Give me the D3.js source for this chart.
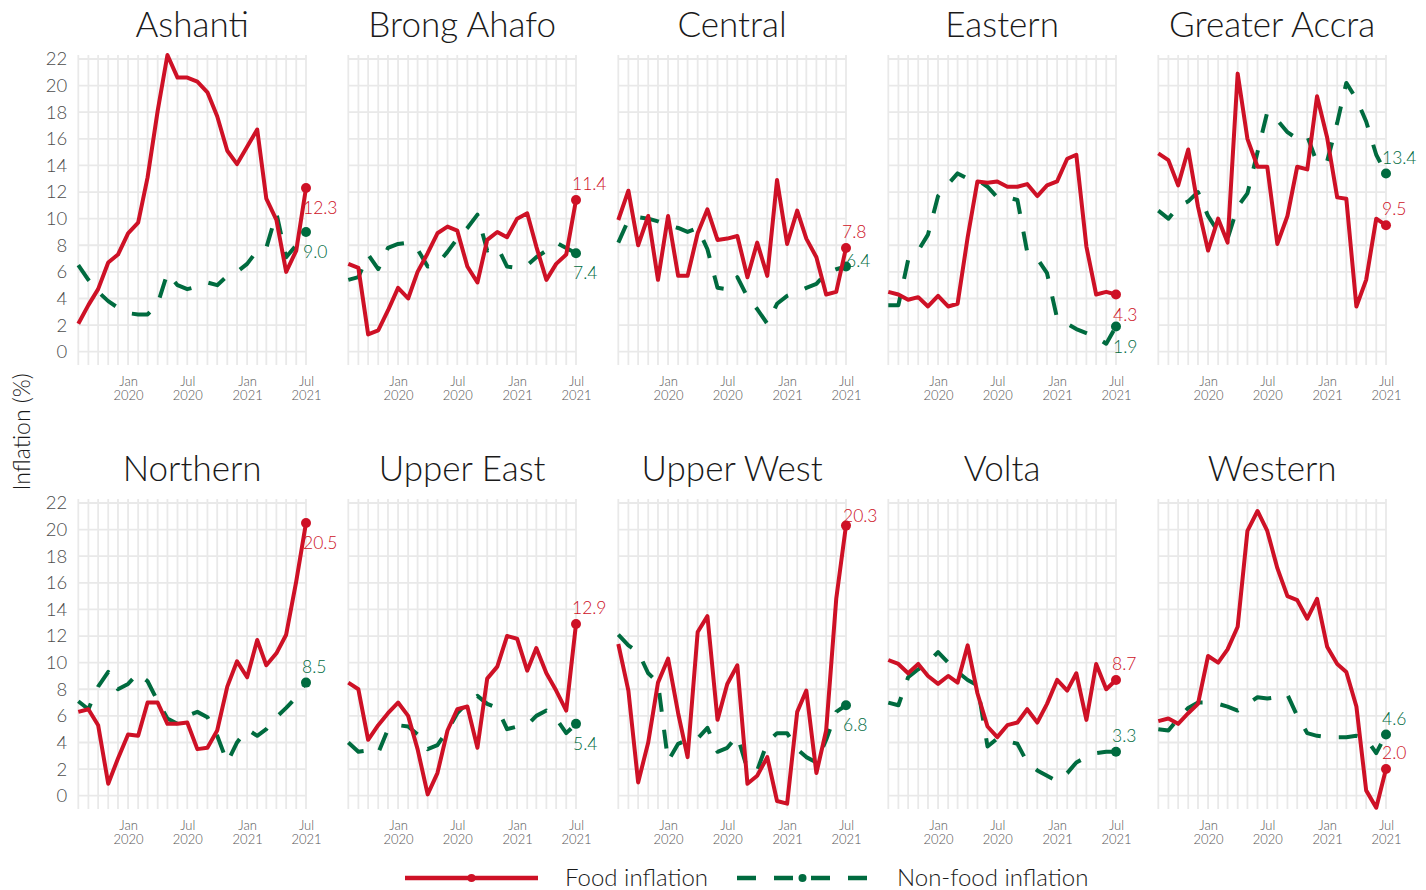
<!DOCTYPE html>
<html>
<head>
<meta charset="utf-8">
<script src="https://cdn.jsdelivr.net/npm/d3@7"></script>
<style>
    body { margin: 0; background: #fff; }
    svg { display: block; font-family: Lato, "Open Sans", sans-serif; font-weight: 300; }
</style>
</head>
<body>
<svg id="chart" width="1426" height="890"></svg>
<script>
const regions = [
    "Ashanti", "Brong Ahafo", "Central", "Eastern", "Greater Accra",
    "Northern", "Upper East", "Upper West", "Volta", "Western",
];

const months = [
    "2019-08", "2019-09", "2019-10", "2019-11", "2019-12",
    "2020-01", "2020-02", "2020-03", "2020-04", "2020-05", "2020-06",
    "2020-07", "2020-08", "2020-09", "2020-10", "2020-11", "2020-12",
    "2021-01", "2021-02", "2021-03", "2021-04", "2021-05", "2021-06", "2021-07",
];

// year-on-year food inflation, one row per region (Aug 2019 .. Jul 2021)
const foodInflation = [
    [2.1, 3.5, 4.7, 6.7, 7.3, 8.9, 9.7, 13.1, 18.1, 22.3, 20.6, 20.6, 20.3, 19.5, 17.7, 15.1, 14.1, 15.4, 16.7, 11.5, 9.9, 6.0, 7.6, 12.3],
    [6.6, 6.3, 1.3, 1.6, 3.1, 4.8, 4.0, 6.0, 7.4, 8.9, 9.4, 9.1, 6.4, 5.2, 8.4, 9.0, 8.6, 10.0, 10.4, 7.9, 5.4, 6.6, 7.3, 11.4],
    [9.9, 12.1, 8.0, 10.2, 5.4, 10.2, 5.7, 5.7, 8.9, 10.7, 8.4, 8.5, 8.7, 5.6, 8.2, 5.7, 12.9, 8.1, 10.6, 8.5, 7.1, 4.3, 4.5, 7.8],
    [4.5, 4.3, 3.9, 4.1, 3.4, 4.2, 3.4, 3.6, 8.6, 12.8, 12.7, 12.8, 12.4, 12.4, 12.6, 11.7, 12.5, 12.8, 14.5, 14.8, 7.9, 4.3, 4.5, 4.3],
    [14.9, 14.4, 12.5, 15.2, 10.9, 7.6, 10.0, 8.2, 20.9, 16.0, 13.9, 13.9, 8.1, 10.2, 13.9, 13.7, 19.2, 16.1, 11.6, 11.5, 3.4, 5.4, 10.0, 9.5],
    [6.3, 6.5, 5.3, 0.9, 2.8, 4.6, 4.5, 7.0, 7.0, 5.4, 5.4, 5.5, 3.5, 3.6, 4.9, 8.2, 10.1, 8.9, 11.7, 9.8, 10.7, 12.1, 16.1, 20.5],
    [8.5, 8.0, 4.2, 5.3, 6.2, 7.0, 6.0, 3.5, 0.1, 1.7, 4.9, 6.5, 6.7, 3.6, 8.8, 9.7, 12.0, 11.8, 9.4, 11.1, 9.2, 7.9, 6.4, 12.9],
    [11.4, 7.9, 1.0, 4.0, 8.5, 10.3, 6.2, 2.9, 12.3, 13.5, 5.7, 8.4, 9.8, 0.9, 1.5, 2.9, -0.4, -0.6, 6.3, 7.9, 1.7, 4.9, 14.8, 20.3],
    [10.2, 9.9, 9.2, 9.9, 9.0, 8.4, 9.0, 8.5, 11.3, 7.7, 5.2, 4.4, 5.3, 5.5, 6.5, 5.5, 6.9, 8.7, 7.9, 9.2, 5.7, 9.9, 8.0, 8.7],
    [5.6, 5.8, 5.4, 6.2, 6.9, 10.5, 10.0, 11.0, 12.7, 19.9, 21.4, 19.9, 17.1, 15.0, 14.7, 13.3, 14.8, 11.2, 9.9, 9.3, 6.7, 0.4, -0.9, 2.0],
];

// year-on-year non-food inflation, same layout
const nonFoodInflation = [
    [6.5, 5.4, 4.5, 3.8, 3.3, 2.9, 2.8, 2.8, 3.6, 5.9, 5.0, 4.7, 4.9, 5.2, 5.0, 5.7, 6.0, 6.6, 7.6, 7.8, 10.4, 7.1, 8.0, 9.0],
    [5.4, 5.6, 7.3, 6.2, 7.8, 8.1, 8.2, 7.7, 6.4, 6.6, 7.5, 8.5, 9.3, 10.3, 7.6, 7.9, 6.4, 6.3, 6.5, 7.1, 7.6, 8.2, 7.8, 7.4],
    [8.2, 9.9, 10.1, 10.0, 9.8, 9.5, 9.3, 9.0, 9.3, 7.7, 4.8, 4.7, 5.6, 4.1, 3.2, 2.1, 3.6, 4.2, 4.5, 4.8, 5.1, 5.9, 6.2, 6.4],
    [3.5, 3.5, 6.9, 7.6, 8.8, 11.7, 12.6, 13.4, 13.0, 12.9, 12.4, 11.6, 11.6, 11.4, 7.5, 7.0, 5.9, 2.5, 2.1, 1.7, 1.4, 1.1, 0.6, 1.9],
    [10.6, 10.0, 10.9, 11.3, 12.0, 10.2, 9.0, 8.5, 10.9, 11.9, 15.0, 18.0, 17.4, 16.5, 16.0, 16.2, 14.2, 14.3, 17.2, 20.2, 19.0, 17.3, 14.8, 13.4],
    [7.1, 6.5, 8.2, 9.3, 8.0, 8.4, 9.2, 8.6, 7.1, 5.8, 5.4, 6.0, 6.3, 5.9, 4.5, 2.5, 4.0, 5.0, 4.5, 5.0, 5.9, 6.6, 7.4, 8.5],
    [4.0, 3.3, 3.4, 3.2, 5.0, 5.3, 5.2, 4.6, 3.5, 3.8, 4.9, 6.2, 7.0, 7.5, 6.9, 6.6, 5.0, 5.2, 5.3, 6.0, 6.4, 5.8, 4.7, 5.4],
    [12.1, 11.3, 10.8, 9.2, 8.5, 2.6, 3.9, 4.2, 4.3, 5.1, 3.3, 3.6, 4.5, 2.0, 1.9, 4.0, 4.7, 4.7, 3.5, 2.9, 2.5, 4.2, 6.3, 6.8],
    [7.0, 6.8, 8.9, 9.5, 10.0, 10.8, 10.0, 9.3, 8.7, 8.3, 3.7, 4.3, 4.1, 3.9, 2.5, 1.9, 1.5, 1.1, 1.7, 2.5, 2.9, 3.2, 3.3, 3.3],
    [5.0, 4.9, 5.8, 6.6, 7.0, 7.0, 6.9, 6.7, 6.4, 6.9, 7.4, 7.3, 7.4, 7.6, 6.0, 4.7, 4.5, 4.4, 4.4, 4.4, 4.5, 4.3, 3.2, 4.6],
];

const yTicks = [0, 2, 4, 6, 8, 10, 12, 14, 16, 18, 20, 22];
const xTicks = ["2020-01", "2020-07", "2021-01", "2021-07"];

// where the end-of-line value label sits: [food, non-food]
const labelSides = [
    ["below", "below"], ["above", "below"], ["above", "right"], ["below", "below"], ["above", "above"],
    ["below", "above"], ["above", "below"], ["upright", "below"], ["above", "above"], ["above", "above"],
];

const RED = "#ce1126";
const GREEN = "#006b3f";
const GRID = "#e9e9e9";
const DASH = "19,18";

const panel = { x0: 78.3, step: 270, w: 227.7, h: 310, tops: [55, 499] };

const parse = d3.timeParse("%Y-%m");
const dates = months.map(parse);
const fmt = d3.format(".1f");

const x = d3.scaleTime().domain(d3.extent(dates)).range([0, panel.w]);
const y = d3.scaleLinear().domain([-1, 22.3]).range([panel.h, 0]);

const line = d3.line()
    .x((d) => x(d.date))
    .y((d) => y(d.value));

const svg = d3.select("#chart");
svg.append("rect").attr("width", 1426).attr("height", 890).attr("fill", "#fff");

const labelOffset = {
    above: { dx: -4, dy: -16 },
    upright: { dx: -3, dy: -10 },
    below: { dx: -3, dy: 20 },
    right: { dx: 0, dy: -6 },
};

regions.forEach((name, i) => {
    const col = i % 5;
    const row = Math.floor(i / 5);
    const g = svg.append("g")
        .attr("transform", `translate(${panel.x0 + col * panel.step},${panel.tops[row]})`);

    // grid
    g.append("g")
        .selectAll("line.vgrid")
        .data(dates)
        .enter()
        .append("line")
        .attr("x1", (d) => x(d))
        .attr("x2", (d) => x(d))
        .attr("y1", 0)
        .attr("y2", panel.h)
        .attr("stroke", GRID)
        .attr("stroke-width", 1.8);

    g.append("g")
        .selectAll("line.hgrid")
        .data(yTicks)
        .enter()
        .append("line")
        .attr("x1", 0)
        .attr("x2", panel.w)
        .attr("y1", (d) => y(d))
        .attr("y2", (d) => y(d))
        .attr("stroke", GRID)
        .attr("stroke-width", 1.8);

    // title
    g.append("text")
        .attr("x", panel.w / 2)
        .attr("y", -18)
        .attr("text-anchor", "middle")
        .attr("font-size", 35)
        .attr("fill", "#1a1a1a")
        .text(name);

    // x axis labels
    g.append("g")
        .attr("transform", `translate(0,${panel.h})`)
        .call(d3.axisBottom(x).tickValues(xTicks.map(parse)).tickSize(0).tickPadding(12))
        .call((ax) => ax.select(".domain").remove())
        .call((ax) => ax.attr("font-family", null).attr("font-size", 13))
        .call((ax) => ax.selectAll(".tick text")
            .attr("fill", "#555")
            .attr("dy", null)
            .each(function (d) {
                const t = d3.select(this).text(null);
                t.append("tspan").attr("x", 0).attr("dy", "0.71em").text(d3.timeFormat("%b")(d));
                t.append("tspan").attr("x", 0).attr("dy", "1.05em").text(d3.timeFormat("%Y")(d));
            }));

    // y axis labels, first column only
    if (col === 0) {
        g.append("g")
            .call(d3.axisLeft(y).tickValues(yTicks).tickSize(0).tickPadding(11))
            .call((ax) => ax.select(".domain").remove())
            .call((ax) => ax.attr("font-family", null).attr("font-size", 18.5))
            .call((ax) => ax.selectAll(".tick text").attr("fill", "#4d4d4d"));
    }

    const series = [
        { values: foodInflation[i], color: RED, dash: null, side: labelSides[i][0] },
        { values: nonFoodInflation[i], color: GREEN, dash: DASH, side: labelSides[i][1] },
    ];

    // non-food drawn first so the food line sits on top
    series.slice().reverse().forEach((s) => {
        const pts = s.values.map((v, k) => ({ date: dates[k], value: v }));
        g.append("path")
            .datum(pts)
            .attr("d", line)
            .attr("fill", "none")
            .attr("stroke", s.color)
            .attr("stroke-width", 4)
            .attr("stroke-linejoin", "round")
            .attr("stroke-dasharray", s.dash);

        const last = pts[pts.length - 1];
        g.append("circle")
            .attr("cx", x(last.date))
            .attr("cy", y(last.value))
            .attr("r", 5)
            .attr("fill", s.color);

        const off = labelOffset[s.side];
        g.append("text")
            .attr("x", x(last.date) + off.dx)
            .attr("y", y(last.value) + off.dy)
            .attr("dy", "0.35em")
            .attr("font-size", 17.5)
            .attr("fill", s.color)
            .text(fmt(last.value));
    });
});

// y axis title
svg.append("text")
    .attr("transform", "translate(30,432) rotate(-90)")
    .attr("text-anchor", "middle")
    .attr("font-size", 23)
    .attr("fill", "#1a1a1a")
    .text("Inflation (%)");

// legend
const legendItems = [
    { label: "Food inflation", color: RED, dash: null, x1: 405, x2: 538, tx: 565 },
    { label: "Non-food inflation", color: GREEN, dash: DASH, x1: 737, x2: 868, tx: 897 },
];

const legend = svg.append("g").attr("class", "legend").attr("transform", "translate(0,878)");
const rows = legend.selectAll("g.legend-row")
    .data(legendItems)
    .enter()
    .append("g")
    .attr("class", "legend-row");

rows.append("line")
    .attr("x1", (d) => d.x1)
    .attr("x2", (d) => d.x2)
    .attr("stroke", (d) => d.color)
    .attr("stroke-width", 4.5)
    .attr("stroke-dasharray", (d) => d.dash);

rows.append("circle")
    .attr("cx", (d) => (d.x1 + d.x2) / 2)
    .attr("r", 4)
    .attr("fill", (d) => d.color);

rows.append("text")
    .attr("x", (d) => d.tx)
    .attr("dy", "0.35em")
    .attr("font-size", 24)
    .attr("fill", "#1a1a1a")
    .text((d) => d.label);
</script>
</body>
</html>
